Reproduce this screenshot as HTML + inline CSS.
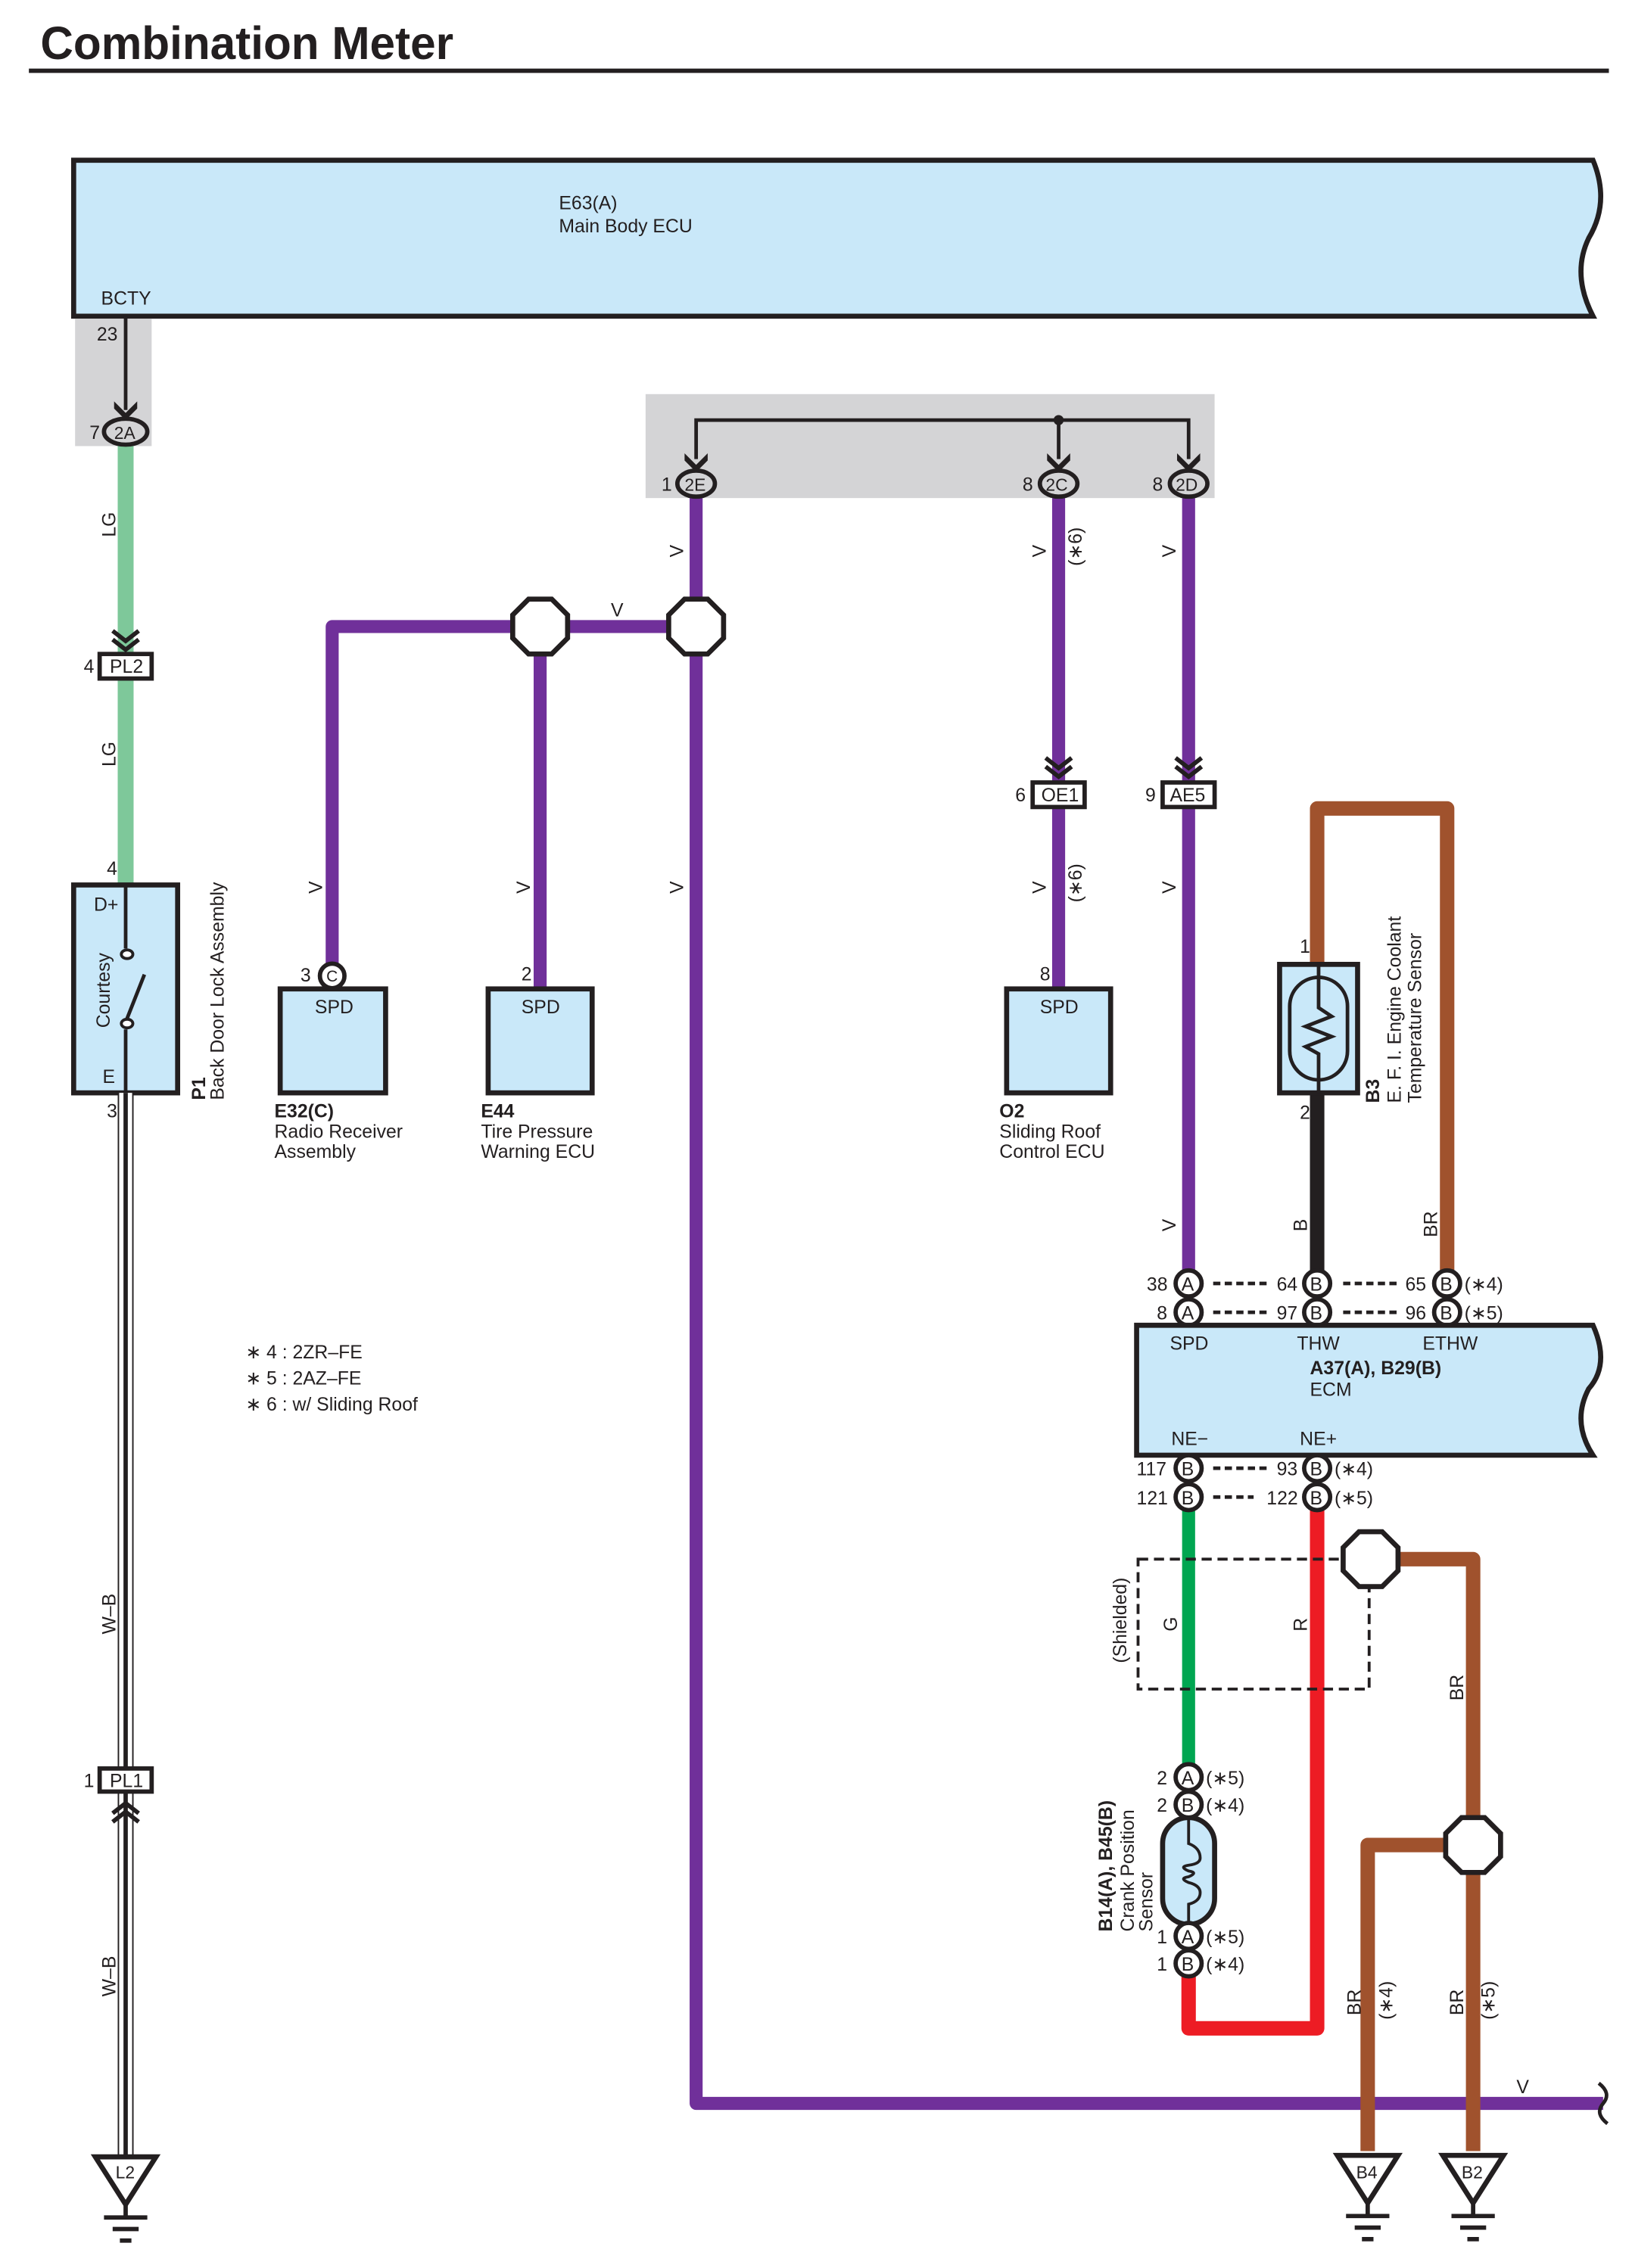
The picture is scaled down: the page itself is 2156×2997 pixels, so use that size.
<!DOCTYPE html>
<html><head><meta charset="utf-8"><style>
html,body{margin:0;padding:0;background:#fff;}
svg{display:block;}
text{font-family:"Liberation Sans",sans-serif;font-size:13px;fill:#231f20;}
.b{font-weight:bold;}
</style></head><body>
<svg width="2156" height="2997" viewBox="0 0 1130 1571" preserveAspectRatio="none" xmlns="http://www.w3.org/2000/svg">
<defs>
<g id="oct"><polygon points="-8,-19 8,-19 19,-8 19,8 8,19 -8,19 -19,8 -19,-8" fill="#fff" stroke="#231f20" stroke-width="3.5"/></g>
<g id="arr"><path d="M-8,-8 L0,0 L8,-8 L8,-3 L0,5 L-8,-3Z" fill="#231f20"/></g>
<g id="chev"><path d="M-9,-10 L0,-3 L9,-10 M-9,-4 L0,3 L9,-4" fill="none" stroke="#231f20" stroke-width="3"/></g>
<g id="gnd"><polygon points="-21,0 21,0 0,33" fill="#fff" stroke="#231f20" stroke-width="3.5"/><path d="M0,33 V42 M-15,42 H15 M-9,50 H9 M-4,58 H4" stroke="#231f20" stroke-width="3" fill="none"/></g>
</defs>

<text x="28" y="41" class="b" style="font-size:32px" textLength="286" lengthAdjust="spacingAndGlyphs">Combination Meter</text>
<line x1="20" y1="49" x2="1114" y2="49" stroke="#231f20" stroke-width="3"/>

<!-- E63 box -->
<path d="M51,111 H1103 Q1115,140 1100,165 Q1088,190 1103,219 H51 Z" fill="#c9e8f9" stroke="#231f20" stroke-width="3.5"/>
<text x="387" y="145">E63(A)</text>
<text x="387" y="161">Main Body ECU</text>
<text x="70" y="211">BCTY</text>

<!-- gray boxes -->
<rect x="52" y="221" width="53" height="88" fill="#d4d4d6"/>
<rect x="447" y="273" width="394" height="72" fill="#d4d4d6"/>
<text x="67" y="236">23</text>
<line x1="87" y1="219" x2="87" y2="284" stroke="#231f20" stroke-width="2.5"/>
<use href="#arr" x="87" y="286"/>

<!-- LG wire -->
<line x1="87" y1="308" x2="87" y2="613" stroke="#7ec89a" stroke-width="11"/>
<ellipse cx="87" cy="299" rx="15" ry="9" fill="#d4d4d6" stroke="#231f20" stroke-width="3"/>
<text x="79" y="304" style="font-size:12px">2A</text>
<text x="62" y="304">7</text>
<text transform="translate(80,372) rotate(-90)">LG</text>
<use href="#chev" x="87" y="447"/>
<rect x="69" y="453" width="36" height="17" fill="#fff" stroke="#231f20" stroke-width="3"/>
<text x="76" y="466">PL2</text>
<text x="58" y="466">4</text>
<text transform="translate(80,531) rotate(-90)">LG</text>
<text x="74" y="606">4</text>

<!-- P1 -->
<rect x="51" y="613" width="72" height="144" fill="#c9e8f9" stroke="#231f20" stroke-width="3.5"/>
<text x="65" y="631">D+</text>
<text x="71" y="750">E</text>
<text transform="translate(76,712) rotate(-90)">Courtesy</text>
<path d="M87,613 V657 M87,713 V757 M87,708 L100,675" stroke="#231f20" stroke-width="2.5" fill="none"/>
<ellipse cx="88" cy="661" rx="4" ry="3" fill="#fff" stroke="#231f20" stroke-width="2"/>
<ellipse cx="88" cy="709" rx="4" ry="3" fill="#fff" stroke="#231f20" stroke-width="2"/>
<text transform="translate(142,762) rotate(-90)" class="b">P1</text>
<text transform="translate(155,762) rotate(-90)">Back Door Lock Assembly</text>
<text x="74" y="774">3</text>

<!-- W-B wire -->
<line x1="87" y1="757" x2="87" y2="1493" stroke="#231f20" stroke-width="11"/>
<line x1="87" y1="757" x2="87" y2="1493" stroke="#fff" stroke-width="9"/>
<line x1="87" y1="757" x2="87" y2="1493" stroke="#231f20" stroke-width="3"/>
<text transform="translate(80,1132) rotate(-90)">W–B</text>
<rect x="69" y="1225" width="36" height="16" fill="#fff" stroke="#231f20" stroke-width="3"/>
<text x="76" y="1238">PL1</text>
<text x="58" y="1238">1</text>
<g transform="translate(87,1252) rotate(180)"><use href="#chev"/></g>
<text transform="translate(80,1383) rotate(-90)">W–B</text>
<use href="#gnd" x="87" y="1494"/>
<text x="80" y="1509" style="font-size:12px">L2</text>

<!-- top bus -->
<path d="M482,318 V291 H823 V318 M733,291 V318" stroke="#231f20" stroke-width="2.5" fill="none"/>
<circle cx="733" cy="291" r="3.5" fill="#231f20"/>
<use href="#arr" x="482" y="322"/>
<use href="#arr" x="733" y="322"/>
<use href="#arr" x="823" y="322"/>

<!-- purple wires -->
<g stroke="#70309a" stroke-width="9" fill="none" stroke-linejoin="round">
<path d="M482,345 V1457 H1110"/>
<path d="M230,668 V434 H482"/>
<path d="M374,685 V434"/>
<path d="M733,345 V542 M733,559 V685"/>
<path d="M823,345 V542 M823,559 V882"/>
</g>
<path d="M1107,1443 Q1116,1450 1110,1457 Q1104,1464 1113,1471" stroke="#231f20" stroke-width="2.5" fill="none"/>
<use href="#oct" x="482" y="434"/>
<use href="#oct" x="374" y="434"/>

<ellipse cx="482" cy="335" rx="13" ry="9" fill="#d4d4d6" stroke="#231f20" stroke-width="3"/>
<text x="474" y="340" style="font-size:12px">2E</text>
<text x="458" y="340">1</text>
<ellipse cx="733" cy="335" rx="13" ry="9" fill="#d4d4d6" stroke="#231f20" stroke-width="3"/>
<text x="724" y="340" style="font-size:12px">2C</text>
<text x="708" y="340">8</text>
<ellipse cx="823" cy="335" rx="13" ry="9" fill="#d4d4d6" stroke="#231f20" stroke-width="3"/>
<text x="814" y="340" style="font-size:12px">2D</text>
<text x="798" y="340">8</text>

<g>
<text transform="translate(473,386) rotate(-90)">V</text>
<text x="423" y="427">V</text>
<text transform="translate(223,619) rotate(-90)">V</text>
<text transform="translate(367,619) rotate(-90)">V</text>
<text transform="translate(473,619) rotate(-90)">V</text>
<text transform="translate(724,386) rotate(-90)">V</text>
<text transform="translate(749,392) rotate(-90)">(∗6)</text>
<text transform="translate(724,619) rotate(-90)">V</text>
<text transform="translate(749,625) rotate(-90)">(∗6)</text>
<text transform="translate(814,386) rotate(-90)">V</text>
<text transform="translate(814,619) rotate(-90)">V</text>
<text transform="translate(814,853) rotate(-90)">V</text>
</g>

<!-- E32 -->
<rect x="194" y="685" width="73" height="72" fill="#c9e8f9" stroke="#231f20" stroke-width="3.5"/>
<text x="218" y="702">SPD</text>
<circle cx="230" cy="676" r="8.5" fill="#fff" stroke="#231f20" stroke-width="3"/>
<text x="226" y="680" style="font-size:11px">C</text>
<text x="208" y="680">3</text>
<text x="190" y="774" class="b">E32(C)</text>
<text x="190" y="788">Radio Receiver</text>
<text x="190" y="802">Assembly</text>
<!-- E44 -->
<rect x="338" y="685" width="72" height="72" fill="#c9e8f9" stroke="#231f20" stroke-width="3.5"/>
<text x="361" y="702">SPD</text>
<text x="361" y="679">2</text>
<text x="333" y="774" class="b">E44</text>
<text x="333" y="788">Tire Pressure</text>
<text x="333" y="802">Warning ECU</text>
<!-- O2 -->
<use href="#chev" x="733" y="535"/>
<rect x="715" y="542" width="36" height="17" fill="#fff" stroke="#231f20" stroke-width="3"/>
<text x="721" y="555">OE1</text>
<text x="703" y="555">6</text>
<text x="720" y="679">8</text>
<rect x="697" y="685" width="72" height="72" fill="#c9e8f9" stroke="#231f20" stroke-width="3.5"/>
<text x="720" y="702">SPD</text>
<text x="692" y="774" class="b">O2</text>
<text x="692" y="788">Sliding Roof</text>
<text x="692" y="802">Control ECU</text>
<use href="#chev" x="823" y="535"/>
<rect x="805" y="542" width="36" height="17" fill="#fff" stroke="#231f20" stroke-width="3"/>
<text x="810" y="555">AE5</text>
<text x="793" y="555">9</text>

<!-- B3 -->
<path d="M912,668 V560 H1002 V882" stroke="#a0522d" stroke-width="10" fill="none" stroke-linejoin="round"/>
<line x1="912" y1="757" x2="912" y2="882" stroke="#231f20" stroke-width="10"/>
<rect x="886" y="668" width="54" height="89" fill="#c9e8f9" stroke="#231f20" stroke-width="3.5"/>
<rect x="893" y="677" width="40" height="71" rx="20" fill="none" stroke="#231f20" stroke-width="2.5"/>
<path d="M913,668 V698 L922,704 L904,711 L922,718 L904,725 L913,730 V757" stroke="#231f20" stroke-width="2.5" fill="none"/>
<text x="900" y="660">1</text>
<text x="900" y="775">2</text>
<text transform="translate(955,764) rotate(-90)" class="b">B3</text>
<text transform="translate(970,764) rotate(-90)">E. F. I.  Engine Coolant</text>
<text transform="translate(984,764) rotate(-90)">Temperature Sensor</text>
<text transform="translate(905,853) rotate(-90)">B</text>
<text transform="translate(995,857) rotate(-90)">BR</text>

<!-- ECM connectors top -->
<g fill="#fff" stroke="#231f20" stroke-width="3">
<circle cx="823" cy="889" r="9"/><circle cx="823" cy="909" r="9"/>
<circle cx="912" cy="889" r="9"/><circle cx="912" cy="909" r="9"/>
<circle cx="1002" cy="889" r="9"/><circle cx="1002" cy="909" r="9"/>
</g>
<g style="font-size:12px">
<text x="818" y="894">A</text><text x="818" y="914">A</text>
<text x="907" y="894">B</text><text x="907" y="914">B</text>
<text x="997" y="894">B</text><text x="997" y="914">B</text>
</g>
<text x="794" y="894">38</text><text x="801" y="914">8</text>
<text x="884" y="894">64</text><text x="884" y="914">97</text>
<text x="973" y="894">65</text><text x="973" y="914">96</text>
<text x="1014" y="894">(∗4)</text><text x="1014" y="914">(∗5)</text>
<g stroke="#231f20" stroke-width="2.5" stroke-dasharray="5,3">
<line x1="840" y1="889" x2="877" y2="889"/><line x1="840" y1="909" x2="877" y2="909"/>
<line x1="930" y1="889" x2="967" y2="889"/><line x1="930" y1="909" x2="967" y2="909"/>
</g>

<!-- ECM box -->
<path d="M787,918 H1103 Q1115,945 1100,962 Q1088,985 1103,1008 H787 Z" fill="#c9e8f9" stroke="#231f20" stroke-width="3.5"/>
<text x="810" y="935">SPD</text>
<text x="898" y="935">THW</text>
<text x="985" y="935">ETHW</text>
<text x="907" y="952" class="b">A37(A), B29(B)</text>
<text x="907" y="967">ECM</text>
<text x="811" y="1001">NE−</text>
<text x="900" y="1001">NE+</text>

<!-- bottom wires -->
<line x1="823" y1="1045" x2="823" y2="1222" stroke="#00a651" stroke-width="9"/>
<path d="M912,1045 V1405 H823 V1368" stroke="#ed1c24" stroke-width="10" fill="none" stroke-linejoin="round"/>
<path d="M968,1080 H1020 V1490 M1020,1278 H947 V1490" stroke="#a0522d" stroke-width="10" fill="none" stroke-linejoin="round"/>
<rect x="788" y="1080" width="160" height="90" fill="none" stroke="#231f20" stroke-width="2" stroke-dasharray="7,4"/>
<use href="#oct" x="949" y="1080"/>
<use href="#oct" x="1020" y="1278"/>
<text transform="translate(780,1152) rotate(-90)">(Shielded)</text>
<text transform="translate(815,1130) rotate(-90)">G</text>
<text transform="translate(905,1130) rotate(-90)">R</text>
<text transform="translate(1013,1178) rotate(-90)">BR</text>

<g fill="#fff" stroke="#231f20" stroke-width="3">
<circle cx="823" cy="1017" r="9"/><circle cx="823" cy="1037" r="9"/>
<circle cx="912" cy="1017" r="9"/><circle cx="912" cy="1037" r="9"/>
</g>
<g style="font-size:12px">
<text x="818" y="1022">B</text><text x="818" y="1042">B</text>
<text x="907" y="1022">B</text><text x="907" y="1042">B</text>
</g>
<text x="787" y="1022">117</text><text x="787" y="1042">121</text>
<text x="884" y="1022">93</text><text x="877" y="1042">122</text>
<text x="924" y="1022">(∗4)</text><text x="924" y="1042">(∗5)</text>
<g stroke="#231f20" stroke-width="2.5" stroke-dasharray="5,3">
<line x1="840" y1="1017" x2="877" y2="1017"/><line x1="840" y1="1037" x2="868" y2="1037"/>
</g>

<!-- crank sensor -->
<rect x="805" y="1259" width="36" height="74" rx="18" fill="#c9e8f9" stroke="#231f20" stroke-width="3.5"/>
<path d="M823,1259 V1277 Q831,1280 831,1287 Q831,1291 823,1292 Q816,1293 823,1296 Q830,1297 823,1300 Q816,1301 823,1304 Q831,1306 831,1311 Q831,1317 823,1319 V1333" stroke="#231f20" stroke-width="2" fill="none"/>
<g fill="#fff" stroke="#231f20" stroke-width="3">
<circle cx="823" cy="1231" r="9"/><circle cx="823" cy="1250" r="9"/>
<circle cx="823" cy="1341" r="9"/><circle cx="823" cy="1360" r="9"/>
</g>
<g style="font-size:12px">
<text x="818" y="1236">A</text><text x="818" y="1255">B</text>
<text x="818" y="1346">A</text><text x="818" y="1365">B</text>
</g>
<text x="801" y="1236">2</text><text x="801" y="1255">2</text>
<text x="801" y="1346">1</text><text x="801" y="1365">1</text>
<text x="835" y="1236">(∗5)</text><text x="835" y="1255">(∗4)</text>
<text x="835" y="1346">(∗5)</text><text x="835" y="1365">(∗4)</text>
<text transform="translate(770,1338) rotate(-90)" class="b">B14(A), B45(B)</text>
<text transform="translate(785,1338) rotate(-90)">Crank Position</text>
<text transform="translate(798,1338) rotate(-90)">Sensor</text>

<text transform="translate(942,1396) rotate(-90)">BR</text>
<text transform="translate(964,1399) rotate(-90)">(∗4)</text>
<text transform="translate(1013,1396) rotate(-90)">BR</text>
<text transform="translate(1035,1399) rotate(-90)">(∗5)</text>
<text x="1050" y="1450">V</text>

<use href="#gnd" x="947" y="1493"/>
<text x="939" y="1509" style="font-size:12px">B4</text>
<use href="#gnd" x="1020" y="1493"/>
<text x="1012" y="1509" style="font-size:12px">B2</text>

<text x="170" y="941">∗ 4 : 2ZR–FE</text>
<text x="170" y="959">∗ 5 : 2AZ–FE</text>
<text x="170" y="977">∗ 6 : w/ Sliding Roof</text>
</svg>
</body></html>
